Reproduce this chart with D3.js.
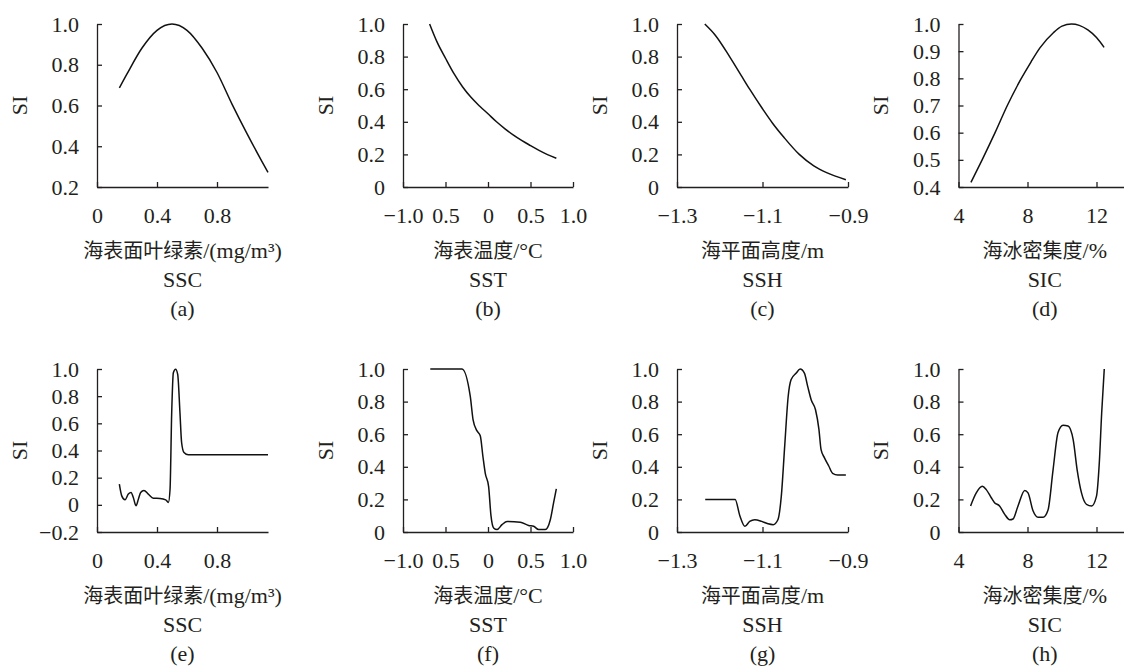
<!DOCTYPE html>
<html>
<head>
<meta charset="utf-8">
<script src="https://cdn.jsdelivr.net/npm/d3@7/dist/d3.min.js"></script>
<style>
  body { margin: 0; background: #fff; }
  svg { display: block; }
  svg text { font-family: "Liberation Serif", "Times New Roman", Times, serif; }
  svg text tspan.cn { font-family: "Noto Sans CJK SC", sans-serif; }
</style>
</head>
<body>
<div id="chart"></div>
<script>

// ---- data ----
// (a) SSC, top row
var sscTopX = [0.149, 0.2, 0.3, 0.4, 0.5, 0.6, 0.7, 0.8, 0.9, 1.0, 1.1, 1.14];
var sscTopY = [0.686, 0.755, 0.882, 0.969, 1.0, 0.969, 0.882, 0.762, 0.607, 0.462, 0.325, 0.272];
// (b) SST
var sstTopX = [-0.687, -0.6, -0.5, -0.4, -0.3, -0.2, -0.1, 0, 0.1, 0.2, 0.3, 0.4, 0.5, 0.6, 0.7, 0.804];
var sstTopY = [1.0, 0.89, 0.79, 0.695, 0.615, 0.55, 0.497, 0.449, 0.4, 0.357, 0.318, 0.284, 0.254, 0.225, 0.199, 0.176];
// (c) SSH
var sshTopX = [-1.235, -1.21, -1.177, -1.15, -1.13, -1.10, -1.076, -1.05, -1.014, -0.98, -0.95, -0.905];
var sshTopY = [1.0, 0.93, 0.8, 0.685, 0.6, 0.48, 0.39, 0.305, 0.2, 0.13, 0.088, 0.045];
// (d) SIC
var sicTopX = [4.72, 5.37, 6.12, 6.83, 7.6, 8.2, 8.72, 9.5, 10.0, 10.55, 11.0, 11.5, 12.0, 12.44];
var sicTopY = [0.417, 0.5, 0.6, 0.7, 0.795, 0.86, 0.912, 0.968, 0.992, 1.0, 0.995, 0.978, 0.95, 0.914];

// (e) SSC, bottom row
var sscBotX = [0.149, 0.165, 0.187, 0.209, 0.227, 0.242, 0.26, 0.276, 0.291, 0.313, 0.342, 0.376, 0.42, 0.458, 0.476,
  0.487, 0.498, 0.509, 0.524, 0.538, 0.553, 0.564, 0.58, 0.609, 1.14];
var sscBotY = [0.152, 0.066, 0.037, 0.079, 0.091, 0.054, -0.007, 0.042, 0.091, 0.106, 0.079, 0.049, 0.047, 0.037, 0.018,
  0.115, 0.68, 0.973, 0.998, 0.961, 0.68, 0.459, 0.385, 0.368, 0.368];
// (f) SST
var sstBotX = [-0.679, -0.306, -0.208, -0.176, -0.129, -0.091, -0.059, -0.032, 0.007, 0.035, 0.066, 0.106, 0.165, 0.224,
  0.38, 0.478, 0.537, 0.595, 0.674, 0.733, 0.772, 0.804];
var sstBotY = [1.0, 1.0, 0.83, 0.69, 0.62, 0.59, 0.46, 0.36, 0.28, 0.1, 0.025, 0.015, 0.045, 0.065,
  0.06, 0.04, 0.035, 0.015, 0.015, 0.075, 0.18, 0.265];
// (g) SSH
var sshBotX = [-1.234, -1.164, -1.153, -1.141, -1.13, -1.118, -1.102, -1.087, -1.075, -1.064, -1.056, -1.048, -1.04,
  -1.033, -1.021, -1.012, -1.002, -0.994, -0.986, -0.976, -0.968, -0.963, -0.955, -0.945, -0.936, -0.924, -0.905];
var sshBotY = [0.2, 0.2, 0.1, 0.035, 0.065, 0.075, 0.065, 0.05, 0.045, 0.075, 0.22, 0.53, 0.83,
  0.935, 0.975, 1.0, 0.975, 0.89, 0.81, 0.75, 0.63, 0.505, 0.455, 0.405, 0.36, 0.35, 0.35];
// (h) SIC
var sicBotX = [4.70, 5.03, 5.38, 5.61, 5.90, 6.09, 6.38, 6.67, 6.97, 7.16, 7.45, 7.84, 8.03, 8.32, 8.61, 8.90, 9.19,
  9.48, 9.77, 10.06, 10.35, 10.65, 10.88, 11.13, 11.42, 11.72, 12.0, 12.16, 12.30, 12.45];
var sicBotY = [0.16, 0.24, 0.28, 0.26, 0.21, 0.18, 0.16, 0.11, 0.075, 0.08, 0.16, 0.255, 0.24, 0.13, 0.09, 0.09, 0.135,
  0.38, 0.61, 0.655, 0.65, 0.565, 0.38, 0.24, 0.17, 0.16, 0.22, 0.42, 0.73, 1.0];

// ticks
var sscTicks = [0, 0.4, 0.8];
var sscTickLabels = ["0", "0.4", "0.8"];
var sstTicks = [-1, -0.5, 0, 0.5, 1];
var sstTickLabels = ["\u22121.0", "0.5", "0", "0.5", "1.0"];
var sshTicks = [-1.3, -1.1, -0.9];
var sshTickLabels = ["\u22121.3", "\u22121.1", "\u22120.9"];
var sicTicks = [4, 8, 12];
var sicTickLabels = ["4", "8", "12"];

var siTicksA = [0.2, 0.4, 0.6, 0.8, 1.0];
var siTicksD = [0.4, 0.5, 0.6, 0.7, 0.8, 0.9, 1.0];
var siTicksE = [-0.2, 0, 0.2, 0.4, 0.6, 0.8, 1.0];
var siTicks01 = [0, 0.2, 0.4, 0.6, 0.8, 1.0];

// axis titles: Chinese part + unit part
var xTitlesCn = ["海表面叶绿素", "海表温度", "海平面高度", "海冰密集度"];
var xTitlesUnit = ["/(mg/m\u00b3)", "/\u00b0C", "/m", "/%"];
var xCodes = ["SSC", "SST", "SSH", "SIC"];
var panelTags = ["(a)", "(b)", "(c)", "(d)", "(e)", "(f)", "(g)", "(h)"];

// ---- layout ----
var W = 1124, H = 669;
var ink = "#231f20";
var colX = [[97, 268], [403, 573], [677, 848], [958.5, 1131]];
var rowY = [[187, 24], [532, 369]];
var rowShift = 345;

var xDomains = [[0, 1.14], [-1, 1], [-1.3, -0.9], [4, 14]];
var xTicks = [sscTicks, sstTicks, sshTicks, sicTicks];
var xTickLabels = [sscTickLabels, sstTickLabels, sshTickLabels, sicTickLabels];

var panels = [
  { col: 0, row: 0, x: sscTopX, y: sscTopY, yDom: [0.2, 1.0], yTicks: siTicksA },
  { col: 1, row: 0, x: sstTopX, y: sstTopY, yDom: [0, 1.0], yTicks: siTicks01 },
  { col: 2, row: 0, x: sshTopX, y: sshTopY, yDom: [0, 1.0], yTicks: siTicks01 },
  { col: 3, row: 0, x: sicTopX, y: sicTopY, yDom: [0.4, 1.0], yTicks: siTicksD },
  { col: 0, row: 1, x: sscBotX, y: sscBotY, yDom: [-0.2, 1.0], yTicks: siTicksE },
  { col: 1, row: 1, x: sstBotX, y: sstBotY, yDom: [0, 1.0], yTicks: siTicks01 },
  { col: 2, row: 1, x: sshBotX, y: sshBotY, yDom: [0, 1.0], yTicks: siTicks01 },
  { col: 3, row: 1, x: sicBotX, y: sicBotY, yDom: [0, 1.0], yTicks: siTicks01 }
];

var svg = d3.select("#chart").append("svg")
  .attr("width", W)
  .attr("height", H)
  .attr("fill", ink);

function fmtSI(d) {
  if (Math.abs(d) < 1e-9) return "0";
  return d3.format(".1f")(d);
}

panels.forEach(function(p, i){
  var x = d3.scaleLinear().domain(xDomains[p.col]).range(colX[p.col]);
  var y = d3.scaleLinear().domain(p.yDom).range(rowY[p.row]);
  var g = svg.append("g");

  // y axis, ticks pointing inward
  var yAxis = d3.axisLeft(y)
    .tickValues(p.yTicks)
    .tickFormat(fmtSI)
    .tickSizeInner(-5)
    .tickSizeOuter(0)
    .tickPadding(18);
  var ya = g.append("g")
    .attr("transform", "translate(" + colX[p.col][0] + ",0)")
    .call(yAxis);

  // x axis
  var labels = xTickLabels[p.col];
  var xAxis = d3.axisBottom(x)
    .tickValues(xTicks[p.col])
    .tickFormat(function(d, k){ return labels[k]; })
    .tickSizeInner(-5)
    .tickSizeOuter(0)
    .tickPadding(20);
  var xa = g.append("g")
    .attr("transform", "translate(0," + rowY[p.row][0] + ")")
    .call(xAxis);

  [ya, xa].forEach(function(a){
    a.attr("font-size", 22);
    a.selectAll("path, line").attr("stroke", ink).attr("stroke-width", 1.3);
    a.selectAll("text").attr("fill", ink);
  });

  // SI label
  var yMid = (rowY[p.row][0] + rowY[p.row][1]) / 2;
  g.append("text")
    .attr("transform", "translate(" + (colX[p.col][0] - 78) + "," + yMid + ") rotate(-90)")
    .attr("text-anchor", "middle")
    .attr("dy", "0.35em")
    .attr("font-size", 22)
    .text("SI");

  // the curve
  var pts = d3.zip(p.x, p.y);
  var line = d3.line()
    .x(function(d){ return x(d[0]); })
    .y(function(d){ return y(d[1]); })
    .curve(d3.curveMonotoneX);
  g.append("path")
    .datum(pts)
    .attr("d", line)
    .attr("fill", "none")
    .attr("stroke", "#111")
    .attr("stroke-width", 1.5);

  // captions under the axis, centred on the axis
  var cx = (colX[p.col][0] + colX[p.col][1]) / 2;
  var base = p.row * rowShift;
  var t = g.append("text")
    .attr("x", cx).attr("y", 258 + base)
    .attr("text-anchor", "middle")
    .attr("font-size", 22);
  t.append("tspan").attr("class", "cn").attr("font-size", 20).text(xTitlesCn[p.col]);
  t.append("tspan").text(xTitlesUnit[p.col]);
  g.append("text")
    .attr("x", cx).attr("y", 287 + base)
    .attr("text-anchor", "middle")
    .attr("font-size", 22)
    .text(xCodes[p.col]);
  g.append("text")
    .attr("x", cx).attr("y", 316 + base)
    .attr("text-anchor", "middle")
    .attr("font-size", 22)
    .text(panelTags[i]);
});

</script>
</body>
</html>
